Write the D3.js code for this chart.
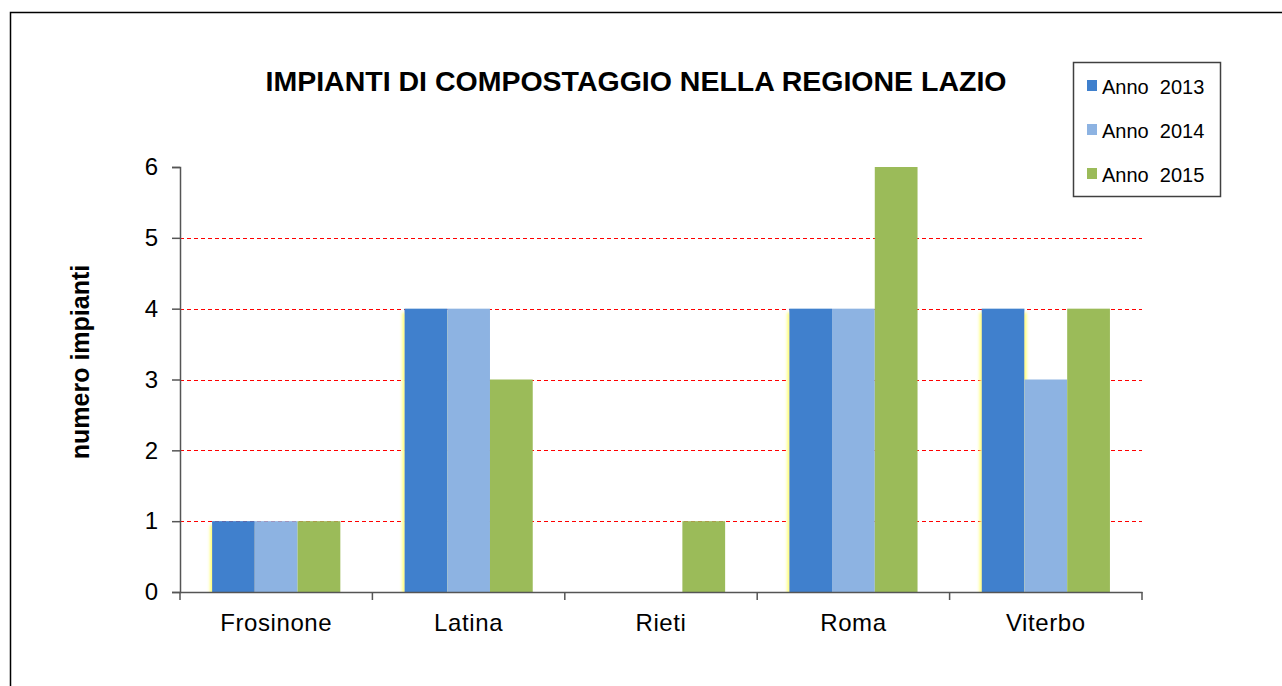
<!DOCTYPE html>
<html>
  <head>
    <meta charset="utf-8">
    <title>Impianti di compostaggio</title>
    <style>
      body { margin: 0; background: #fff; }
      svg { display: block; font-family: "Liberation Sans", Arial, sans-serif; }
      .legend text { white-space: pre; }
    </style>
  </head>
  <body>
    <script src="https://d3js.org/d3.v7.min.js"></script>
    <script>
      const province = ["Frosinone", "Latina", "Rieti", "Roma", "Viterbo"]
      const anni = ["Anno  2013", "Anno  2014", "Anno  2015"]
      const anno2013 = [1, 4, 0, 4, 4]
      const anno2014 = [1, 4, 0, 4, 3]
      const anno2015 = [1, 3, 1, 6, 4]
      const yTicks = [0, 1, 2, 3, 4, 5, 6]
      const colori = ["#3f80cd", "#8db3e2", "#9bbb59"]

      const series = [anno2013, anno2014, anno2015]
      const w = 1282
      const h = 686
      const plotLeft = 180, plotRight = 1142, plotTop = 167, plotBottom = 592

      const svg = d3.select("body").append("svg")
        .attr("width", w)
        .attr("height", h)

      // leggero alone giallo ai lati delle barre
      const defs = svg.append("defs")
      const f = defs.append("filter").attr("id", "glow")
        .attr("x", "-30%").attr("y", "-5%").attr("width", "160%").attr("height", "115%")
      f.append("feFlood").attr("flood-color", "#ffff70").attr("result", "c")
      f.append("feComposite").attr("in", "c").attr("in2", "SourceAlpha").attr("operator", "in").attr("result", "s")
      f.append("feMorphology").attr("in", "s").attr("operator", "dilate").attr("radius", "2 0").attr("result", "d")
      f.append("feOffset").attr("in", "d").attr("dy", 4).attr("result", "o")
      f.append("feGaussianBlur").attr("in", "o").attr("stdDeviation", 1.5).attr("result", "b")
      const m = f.append("feMerge")
      m.append("feMergeNode").attr("in", "b")
      m.append("feMergeNode").attr("in", "SourceGraphic")
      defs.append("clipPath").attr("id", "plotclip")
        .append("rect")
          .attr("x", plotLeft).attr("y", plotTop - 10)
          .attr("width", plotRight - plotLeft).attr("height", plotBottom - plotTop + 10)

      // cornice esterna
      svg.append("rect")
        .attr("x", 10.5).attr("y", 12.5)
        .attr("width", w + 20).attr("height", h + 20)
        .attr("fill", "none").attr("stroke", "#000").attr("stroke-width", 1.5)

      const x0 = d3.scaleBand().domain(province).range([plotLeft, plotRight])
      const x1 = d3.scaleBand().domain(d3.range(3)).range([0, x0.bandwidth()]).paddingOuter(0.75)
      const y = d3.scaleLinear().domain([0, 6]).range([plotBottom, plotTop])

      // griglia
      svg.append("g").selectAll("line")
        .data(yTicks.filter(d => d > 0 && d < 6))
        .join("line")
          .attr("x1", plotLeft).attr("x2", plotRight)
          .attr("y1", d => Math.round(y(d)) + 0.5).attr("y2", d => Math.round(y(d)) + 0.5)
          .attr("stroke", "#ff0000").attr("stroke-width", 1)
          .attr("stroke-dasharray", "4,3")

      // barre
      const bars = svg.append("g").attr("clip-path", "url(#plotclip)")
      series.forEach((vals, s) => {
        bars.append("g").selectAll("rect")
          .data(vals.map((v, i) => ({ p: province[i], v: v })))
          .join("rect")
            .attr("x", d => x0(d.p) + x1(s))
            .attr("y", d => y(d.v))
            .attr("width", x1.bandwidth())
            .attr("height", d => plotBottom - y(d.v))
            .attr("fill", colori[s])
            .attr("filter", s === 0 ? "url(#glow)" : null)
      })

      // asse y
      const yAxis = d3.axisLeft(y).tickValues(yTicks).tickSize(8).tickPadding(14).tickFormat(d3.format("d"))
      const gy = svg.append("g")
        .attr("transform", "translate(" + plotLeft + ",0)")
        .call(yAxis)
      gy.select(".domain").attr("stroke", "#555").attr("stroke-width", 1.5)
      gy.selectAll(".tick line").attr("stroke", "#555").attr("stroke-width", 1.5)
      gy.selectAll(".tick text")
        .attr("font-size", 24).attr("font-family", "Liberation Sans, Arial, sans-serif")
        .attr("fill", "#000")

      // asse x
      const xAxis = d3.axisBottom(x0).tickSize(0).tickPadding(22)
      const gx = svg.append("g")
        .attr("transform", "translate(0," + plotBottom + ")")
        .call(xAxis)
      gx.select(".domain").attr("stroke", "#555").attr("stroke-width", 1.5)
      gx.selectAll(".tick text")
        .attr("font-size", 24).attr("font-family", "Liberation Sans, Arial, sans-serif")
        .attr("letter-spacing", 0.6)
        .attr("fill", "#000")
      gx.selectAll(".sep")
        .data(province.map(p => x0(p)).concat([plotRight]))
        .join("line")
          .attr("class", "sep")
          .attr("x1", d => d).attr("x2", d => d)
          .attr("y1", 0).attr("y2", 8)
          .attr("stroke", "#555").attr("stroke-width", 1.5)

      // titolo
      svg.append("text")
        .attr("x", 636).attr("y", 91)
        .attr("text-anchor", "middle")
        .attr("font-size", 28.5).attr("font-weight", "bold")
        .text("IMPIANTI DI COMPOSTAGGIO NELLA REGIONE LAZIO")

      // etichetta asse y
      svg.append("text")
        .attr("transform", "translate(89,362) rotate(-90)")
        .attr("text-anchor", "middle")
        .attr("font-size", 25).attr("font-weight", "bold")
        .text("numero impianti")

      // legenda
      const lg = svg.append("g").attr("class", "legend")
      lg.append("rect")
        .attr("x", 1073.5).attr("y", 62.5).attr("width", 147).attr("height", 134)
        .attr("fill", "#fff").attr("stroke", "#404040").attr("stroke-width", 1.5)
      const items = lg.selectAll("g.item")
        .data(anni)
        .join("g")
          .attr("class", "item")
          .attr("transform", (d, i) => "translate(0," + (i * 44) + ")")
      items.append("rect")
        .attr("x", 1087).attr("y", 80).attr("width", 10).attr("height", 11)
        .attr("fill", (d, i) => colori[i])
      items.append("text")
        .attr("x", 1102).attr("y", 94)
        .attr("font-size", 20)
        .attr("fill", "#000")
        .text(d => d)
    </script>
  </body>
</html>
